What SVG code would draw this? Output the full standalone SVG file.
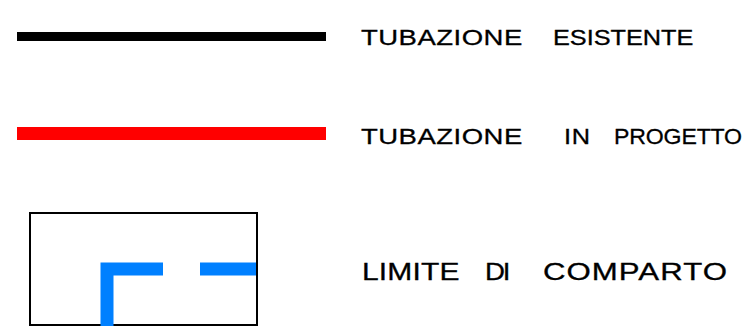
<svg xmlns="http://www.w3.org/2000/svg" width="750" height="327" viewBox="0 0 750 327">
<style>
.lbl{font-family:"Liberation Sans",Arial,sans-serif;font-size:22px;fill:#000;stroke:#000;stroke-width:0.3}
.big{font-size:24px}
.blue{fill:#0080ff}
</style>
<rect width="750" height="327" fill="#fff"/>
<g id="legend-esistente">
<rect x="17" y="32" width="309" height="9" fill="#000"/>
<text class="lbl" transform="translate(361,44.5) scale(1.25,1)" textLength="129" lengthAdjust="spacing">TUBAZIONE</text>
<text class="lbl" transform="translate(553,44.5) scale(1.15,1)" textLength="122" lengthAdjust="spacing">ESISTENTE</text>
</g>
<g id="legend-progetto">
<rect x="17" y="127" width="309" height="13" fill="#ff0000"/>
<text class="lbl" transform="translate(361,143.5) scale(1.25,1)" textLength="129" lengthAdjust="spacing">TUBAZIONE</text>
<text class="lbl" transform="translate(564,143.5) scale(1.15,1)" textLength="22.6" lengthAdjust="spacing">IN</text>
<text class="lbl" transform="translate(614,143.5) scale(1.05,1)" textLength="122" lengthAdjust="spacing">PROGETTO</text>
</g>
<g id="legend-comparto">
<rect x="30" y="213" width="227" height="112" fill="none" stroke="#000" stroke-width="2"/>
<path class="blue" d="M100.5 262.5H163V275.5H113.5V326H100.5Z"/>
<rect class="blue" x="200" y="262.5" width="56" height="13"/>
<text class="lbl big" transform="translate(362,279.5) scale(1.25,1)" textLength="78" lengthAdjust="spacing">LIMITE</text>
<text class="lbl big" transform="translate(485,279.5) scale(1.15,1)" textLength="22" lengthAdjust="spacing">DI</text>
<text class="lbl big" transform="translate(543,279.5) scale(1.3,1)" textLength="141.5" lengthAdjust="spacing">COMPARTO</text>
</g>
</svg>
